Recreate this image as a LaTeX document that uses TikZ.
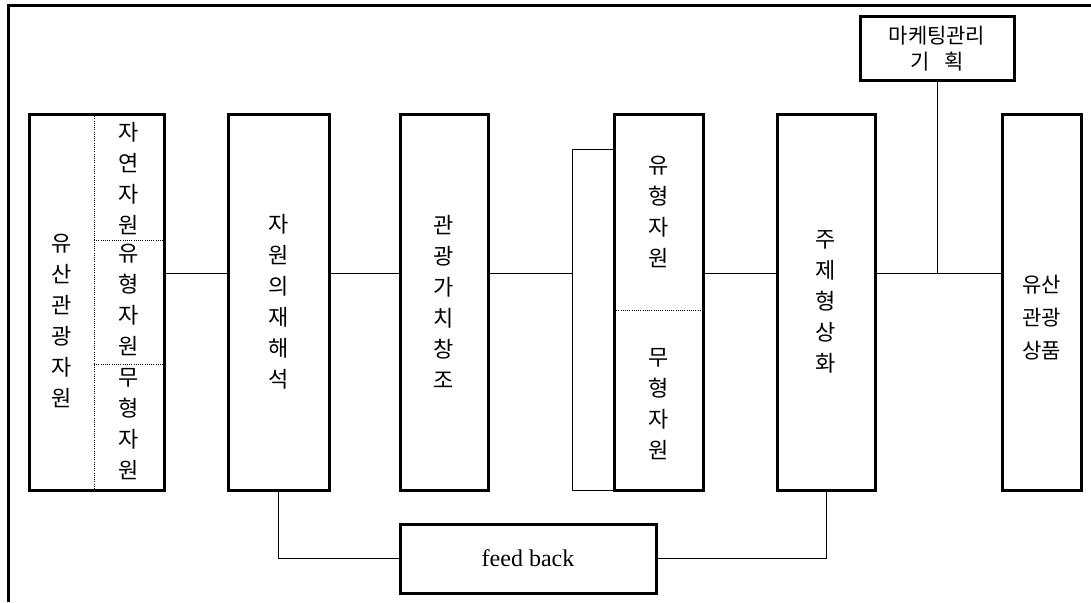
\documentclass[tikz,border=0pt]{standalone}
\usepackage{fontspec}
\setmainfont{Liberation Serif}
\newfontfamily\kr{Noto Sans CJK KR}
\usetikzlibrary{calc}
\def\MainY{273}
\def\BoxMid{302}
\def\BoxH{376}
\def\BrX{572}

\tikzset{
  box/.style={draw, line width=3pt, minimum height=\BoxH pt, inner sep=0pt},
  txt/.style={font=\kr\fontsize{22}{31}\selectfont, align=center, inner sep=0pt},
  link/.style={line width=1pt},
  sep/.style={line width=1pt, dash pattern=on 1pt off 1.2pt}
}

\begin{document}
\begin{tikzpicture}[x=1pt,y=-1pt]
\useasboundingbox (0,0) rectangle (1091,602);

% frame
\draw[line width=3pt] (8.5,602) -- (8.5,6) -- (1091,6);

\coordinate (main) at (0,\MainY);
\coordinate (brtop) at (\BrX,149);
\coordinate (brbot) at (\BrX,490);

% boxes
\node[box, minimum width=135pt] (res) at (96.5,\BoxMid) {};
\node[txt] (resall) at (61.5,321) {유\\산\\관\\광\\자\\원};
\node[txt] (nat) at (129,179) {자\\연\\자\\원};
\node[txt] (tan1) at (129,300) {유\\형\\자\\원};
\node[txt] (int1) at (129,424) {무\\형\\자\\원};
\draw[sep] (94,114) -- (94,490);
\draw[sep] (94,240) -- (164,240);
\draw[sep] (94,364) -- (164,364);

\node[box, txt, minimum width=101pt] (reint) at (278.5,\BoxMid) {자\\원\\의\\재\\해\\석};
\node[box, txt, minimum width=88pt] (value) at (444,\BoxMid) {관\\광\\가\\치\\창\\조};

\node[box, minimum width=89pt] (kind) at (658.5,\BoxMid) {};
\node[txt] (tan2) at (658.5,212) {유\\형\\자\\원};
\node[txt] (int2) at (658.5,404) {무\\형\\자\\원};
\draw[sep] (614,310) -- (703,310);

\node[box, txt, minimum width=98pt] (theme) at (826,\BoxMid) {주\\제\\형\\상\\화};
\node[box, minimum width=79pt] (prod) at (1041.5,\BoxMid) {};
\node[txt, font=\kr\fontsize{21}{33}\selectfont] (prodtxt) at (1041.5,318) {유산\\관광\\상품};

\node[draw, line width=3pt, minimum width=154pt, minimum height=63pt, inner sep=0pt,
  align=center, font=\kr\fontsize{21}{26}\selectfont] (mkt) at (937,48.5) {마케팅관리\\기\hspace{0.7em}획};
\node[draw, line width=3pt, minimum width=256pt, minimum height=69pt,
  font=\fontsize{24}{26}\selectfont] (fb) at (528,558.5) {feed back};

% links
\draw[link] (res.east |- main) -- (reint.west |- main);
\draw[link] (reint.east |- main) -- (value.west |- main);
\draw[link] (value.east |- main) -- (brtop |- main);
\draw[link] (kind.west |- brtop) -- (brtop) -- (brbot) -- (kind.west |- brbot);
\draw[link] (kind.east |- main) -- (theme.west |- main);
\draw[link] (theme.east |- main) -- (prod.west |- main);
\draw[link] (mkt.south) -- (mkt.south |- main);
\draw[link] (reint.south) |- (fb.west);
\draw[link] (fb.east) -| (theme.south);
\end{tikzpicture}
\end{document}
